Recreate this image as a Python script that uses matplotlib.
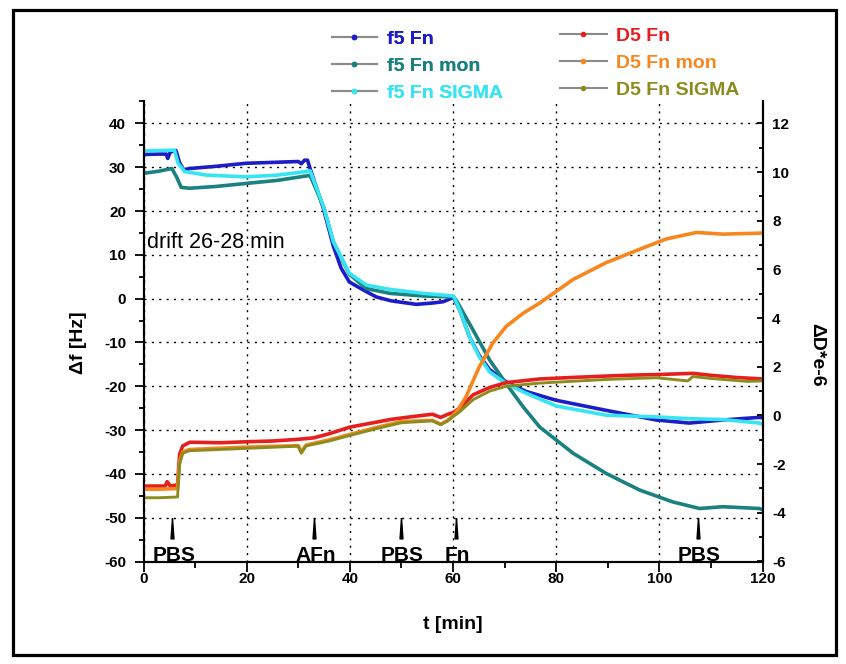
"""QCM-D trace: frequency and dissipation shifts of Fn samples over time."""
import matplotlib

matplotlib.use("Agg")
import matplotlib.pyplot as plt
from matplotlib.lines import Line2D
from matplotlib.patches import Rectangle

plt.rcParams["font.family"] = ["Liberation Sans", "DejaVu Sans"]

# Frequency shift, f5 (Hz), left axis.

f5_fn_t = [0, 3, 4.4, 4.7, 5.2, 6.3, 7.0, 7.8, 8.9, 14, 19.9, 25, 30, 30.6,
           31.2, 31.8, 32.4, 34.9, 36.8, 38.3, 39.9, 43.2, 45.1, 48, 52.9, 56,
           58.1, 60.1, 61.3, 63.2, 65.1, 67.1, 70.3, 74.2, 80, 89.7, 99.4,
           105.8, 112.3, 119.4, 120]
f5_fn = [32.9, 33.0, 33.0, 32.0, 33.5, 33.8, 31.0, 29.4, 29.7, 30.2, 30.9,
         31.1, 31.3, 30.8, 31.6, 31.6, 29.3, 20.5, 12.0, 7.0, 3.8, 1.6, 0.4,
         -0.5, -1.3, -1.0, -0.7, 0.3, -2.6, -8.7, -13.0, -16.2, -19.0, -21.2,
         -23.2, -25.5, -27.7, -28.4, -27.7, -27.1, -27.2]

f5_mon_t = [0, 3, 5.5, 6.4, 7.3, 8.9, 14, 19.9, 26, 31.5, 32.3, 34.9, 36.8,
            39.9, 43.2, 47.8, 54.3, 60.1, 60.6, 63.9, 67.1, 70.3, 73.6, 76.8,
            83.3, 89.7, 96.2, 102.6, 107.8, 112.3, 119.4, 120]
f5_mon = [28.6, 29.1, 29.7, 27.8, 25.4, 25.2, 25.6, 26.3, 27.0, 28.0, 28.1,
          21.0, 13.0, 5.6, 2.3, 1.2, 0.6, 0.4, -0.3, -7.2, -14.0, -19.4,
          -24.7, -29.3, -35.3, -39.9, -43.7, -46.4, -47.9, -47.5, -47.9, -48.2]

f5_sigma_t = [0, 3, 6.0, 6.7, 8.0, 12.2, 19.9, 26, 31.5, 32.3, 34.9, 36.8,
              39.9, 43.2, 47.8, 54.3, 60.1, 61.3, 63.2, 65.1, 67.1, 70.3,
              74.2, 80, 89.7, 99.4, 105.8, 112.3, 119.4, 120]
f5_sigma = [33.7, 33.8, 33.9, 30.9, 29.0, 28.2, 27.8, 28.2, 29.0, 29.2, 21.0,
            13.0, 5.8, 3.1, 2.1, 1.2, 0.6, -2.6, -8.7, -13.3, -16.7, -19.4,
            -21.6, -24.5, -26.6, -27.0, -27.4, -27.6, -28.4, -28.6]

# Dissipation shift, D5 (1e-6), right axis.

d5_fn_t = [0, 3, 4.2, 4.6, 5.2, 6.6, 7.0, 7.6, 9, 15, 20, 25, 30, 33, 36, 40,
           44, 48, 52, 56, 57.6, 59, 60, 61.3, 63.9, 67.1, 70.3, 76.8, 83,
           89.7, 95, 99.4, 106.5, 110, 115, 120]
d5_fn = [-2.9, -2.9, -2.9, -2.72, -2.9, -2.85, -1.6, -1.25, -1.1, -1.12,
         -1.08, -1.05, -0.98, -0.92, -0.75, -0.48, -0.32, -0.16, -0.05, 0.05,
         -0.08, 0.05, 0.12, 0.3, 0.85, 1.15, 1.35, 1.5, 1.56, 1.62, 1.66,
         1.68, 1.73, 1.65, 1.56, 1.5]

d5_mon_t = [0, 3, 6.6, 7.0, 7.6, 8.9, 20, 30, 30.6, 31.5, 36, 40, 45, 50, 56,
            57.6, 59, 60, 61, 62.5, 65.1, 67.7, 70.3, 73.6, 76.8, 83.3, 89.7,
            96.2, 101.3, 107.2, 112.3, 119.4, 120]
d5_mon = [-3.03, -3.03, -3.0, -1.9, -1.5, -1.4, -1.3, -1.24, -1.5, -1.22,
          -1.0, -0.78, -0.5, -0.25, -0.2, -0.36, -0.2, 0.0, 0.25, 0.76, 2.0,
          2.97, 3.66, 4.2, 4.62, 5.59, 6.28, 6.83, 7.25, 7.52, 7.45, 7.49,
          7.5]

d5_sigma_t = [0, 3, 6.6, 7.0, 7.6, 8.9, 20, 30, 30.6, 31.5, 36, 40, 45, 50,
              56, 57.6, 59, 60, 61.3, 63.9, 67.1, 70.3, 76.8, 89.7, 99.4,
              105.5, 106.5, 110, 117, 120]
d5_sigma = [-3.38, -3.38, -3.35, -2.0, -1.55, -1.45, -1.35, -1.26, -1.55,
            -1.25, -1.05, -0.82, -0.55, -0.3, -0.22, -0.38, -0.22, -0.05,
            0.15, 0.65, 1.0, 1.2, 1.33, 1.48, 1.55, 1.42, 1.6, 1.52, 1.4,
            1.42]

# Injection events.

event_t = [5.6, 33.0, 49.9, 60.5, 107.5]
event_labels = ["PBS", "AFn", "PBS", "Fn", "PBS"]

blue = "#1c1cc8"
teal = "#1a8080"
cyan = "#36e4f2"
red = "#e61e1e"
orange = "#f7861f"
olive = "#8c8c1e"


def plot():

    fig = plt.figure(figsize=(8.46, 6.64), dpi=100)
    fig.patch.set_facecolor("white")

    # Outer frame round the whole picture.

    fig.patches.append(
        Rectangle(
            (12.5 / 846, 9 / 664),
            (836 - 12.5) / 846,
            (655 - 10) / 664,
            transform=fig.transFigure,
            fill=False,
            edgecolor="black",
            linewidth=2.3,
        )
    )

    ax = fig.add_axes([143.5 / 846, 1 - 561.5 / 664, 619 / 846, 460 / 664])
    ax2 = ax.twinx()

    tick_font = {"fontsize": 11, "fontweight": "bold"}

    ax.set_xlim(0, 120)
    ax.set_ylim(-60, 45)
    ax2.set_ylim(-6, 12.9)

    ax.set_xticks(range(0, 121, 20))
    ax.set_xticks(range(10, 121, 20), minor=True)
    ax.set_yticks(range(-60, 41, 10))
    ax.set_yticks(range(-55, 46, 10), minor=True)
    ax2.set_yticks(range(-6, 13, 2))
    ax2.set_yticks(range(-5, 13, 2), minor=True)

    ax.set_xticklabels([str(v) for v in range(0, 121, 20)], **tick_font)
    ax.set_yticklabels([str(v) for v in range(-60, 41, 10)], **tick_font)
    ax2.set_yticklabels([str(v) for v in range(-6, 13, 2)], **tick_font)

    ax.tick_params(axis="y", which="major", direction="out", length=6.5, width=1.3, pad=6)
    ax.tick_params(axis="y", which="minor", direction="out", length=3.8, width=1.3)
    ax.tick_params(axis="x", which="major", direction="out", length=7, width=1.3, pad=0.5)
    ax.tick_params(axis="x", which="minor", direction="out", length=4.5, width=1.3)
    ax2.tick_params(axis="y", which="major", direction="in", length=4.2, width=1.3, pad=7)
    ax2.tick_params(axis="y", which="minor", direction="in", length=3, width=1.3)

    for a in (ax, ax2):
        a.spines["top"].set_visible(False)
        for side in ("left", "right", "bottom"):
            a.spines[side].set_linewidth(1.5)

    ax.grid(True, which="major", color="black", linestyle=(0, (1.5, 3.8)), linewidth=1.0)
    ax.set_axisbelow(True)

    # Frequency traces.

    lw = 2.6
    ax.plot(f5_fn_t, f5_fn, color=blue, lw=lw)
    ax.plot(f5_mon_t, f5_mon, color=teal, lw=lw)
    ax.plot(f5_sigma_t, f5_sigma, color=cyan, lw=lw)

    # Dissipation traces.

    ax2.plot(d5_fn_t, d5_fn, color=red, lw=lw)
    ax2.plot(d5_mon_t, d5_mon, color=orange, lw=lw)
    ax2.plot(d5_sigma_t, d5_sigma, color=olive, lw=lw * 0.8)

    # Event markers.

    wedge = [(0, 1), (-0.14, -1), (0.14, -1), (0, 1)]
    ax.plot(event_t, [-52.3] * len(event_t), linestyle="none", marker=wedge,
            markersize=15, color="black", clip_on=False)
    for t, label in zip(event_t, event_labels):
        ax.text(t + 0.3, -59.9, label, ha="center", va="baseline",
                fontsize=15, fontweight="bold", clip_on=False)

    ax.text(0.7, 12.9, "drift 26-28 min", ha="left", va="center", fontsize=15.5)

    # Axis labels.

    ax.set_xlabel("t [min]", fontsize=14, fontweight="bold", va="center")
    ax.xaxis.set_label_coords(0.5, -0.136)
    ax.set_ylabel("\u0394f [Hz]", fontsize=14, fontweight="bold", va="center")
    ax.yaxis.set_label_coords(-0.105, 0.475)
    ax2.set_ylabel("\u0394D*e-6", fontsize=14, fontweight="bold", rotation=270,
                   va="center", ha="center")
    ax2.yaxis.set_label_coords(1.087, 0.45)

    # Legends: gray line with coloured dot, coloured bold text.

    legend_font = {"weight": "bold", "size": 14}

    def handles(colors):
        return [
            Line2D([0], [0], color="#8a8a8a", lw=1.5, marker="o", markersize=3,
                   markerfacecolor=c, markeredgecolor=c)
            for c in colors
        ]

    f_colors = [blue, teal, cyan]
    d_colors = [red, orange, olive]
    leg1 = ax.legend(
        handles(f_colors), ["f5 Fn", "f5 Fn mon", "f5 Fn SIGMA"],
        loc="upper left", bbox_to_anchor=(332 / 846, 1 - 30 / 664),
        bbox_transform=fig.transFigure, frameon=False, prop=legend_font,
        borderpad=0, borderaxespad=0, handlelength=2.3, handletextpad=0.55,
        labelspacing=0.5,
    )
    for text, c in zip(leg1.get_texts(), f_colors):
        text.set_color(c)
    ax.add_artist(leg1)

    leg2 = ax2.legend(
        handles(d_colors), ["D5 Fn", "D5 Fn mon", "D5 Fn SIGMA"],
        loc="upper left", bbox_to_anchor=(560 / 846, 1 - 27 / 664),
        bbox_transform=fig.transFigure, frameon=False, prop=legend_font,
        borderpad=0, borderaxespad=0, handlelength=2.4, handletextpad=0.5,
        labelspacing=0.5,
    )
    for text, c in zip(leg2.get_texts(), d_colors):
        text.set_color(c)

    fig.savefig("out.png", dpi=100, facecolor="white")


if __name__ == "__main__":
    plot()
